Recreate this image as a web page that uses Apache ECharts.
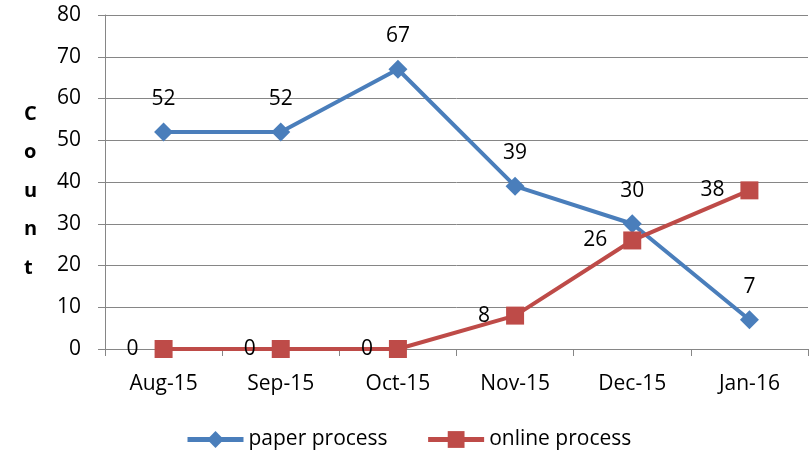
<!DOCTYPE html>
<html><head><meta charset="utf-8">
<script src="https://cdn.jsdelivr.net/npm/echarts@6/dist/echarts.min.js"></script>
<style>html,body{margin:0;padding:0;background:#fff}#c{width:812px;height:456px}</style>
</head><body><div id="c"></div>
<script>
const categories = ['Aug-15','Sep-15','Oct-15','Nov-15','Dec-15','Jan-16'];
const paperProcess = [52, 52, 67, 39, 30, 7];
const onlineProcess = [0, 0, 0, 8, 26, 38];
const yTitle = 'C\no\nu\nn\nt';
const FONT = '"Open Sans", "Liberation Sans", sans-serif';
const FS = 21;
const chart = echarts.init(document.getElementById('c'));
chart.setOption({
  animation: false,
  textStyle: {fontFamily: FONT},
  grid: {left: 105, right: 4, top: 15, bottom: 107, containLabel: false},
  graphic: [{
    type: 'text', left: 24, top: 95,
    style: {text: yTitle, font: 'bold 20px ' + FONT, fill: '#000', lineHeight: 38.5, align: 'center'}
  }],
  legend: {
    bottom: 1, left: 180, itemWidth: 56, itemHeight: 21, itemGap: 38,
    lineStyle: {width: 5},
    textStyle: {fontSize: FS, color: '#000', fontFamily: FONT},
    data: ['paper process', 'online process']
  },
  xAxis: {
    type: 'category', data: categories, boundaryGap: true,
    axisLine: {lineStyle: {color: '#868686', width: 1}},
    axisTick: {show: true, length: 7, lineStyle: {color: '#868686'}},
    axisLabel: {fontSize: FS, color: '#000', margin: 25, fontFamily: FONT}
  },
  yAxis: {
    type: 'value', min: 0, max: 80, interval: 10,
    axisLine: {show: true, lineStyle: {color: '#868686'}},
    axisTick: {show: true, length: 7, lineStyle: {color: '#868686'}},
    splitLine: {lineStyle: {color: '#868686'}},
    axisLabel: {fontSize: FS, color: '#000', margin: 24, fontFamily: FONT}
  },
  series: [
    {
      name: 'paper process', type: 'line', data: paperProcess,
      symbol: 'diamond', symbolSize: 19,
      lineStyle: {color: '#4A7EBB', width: 4},
      itemStyle: {color: '#4A7EBB'},
      label: {show: true, position: 'top', distance: 13, fontSize: FS, color: '#000', fontFamily: FONT}
    },
    {
      name: 'online process', type: 'line', data: onlineProcess,
      symbol: 'rect', symbolSize: 18,
      lineStyle: {color: '#BE4B48', width: 4},
      itemStyle: {color: '#BE4B48'},
      label: {show: true, position: 'left', distance: 16, fontSize: FS, color: '#000', fontFamily: FONT}
    }
  ]
});
</script></body></html>
